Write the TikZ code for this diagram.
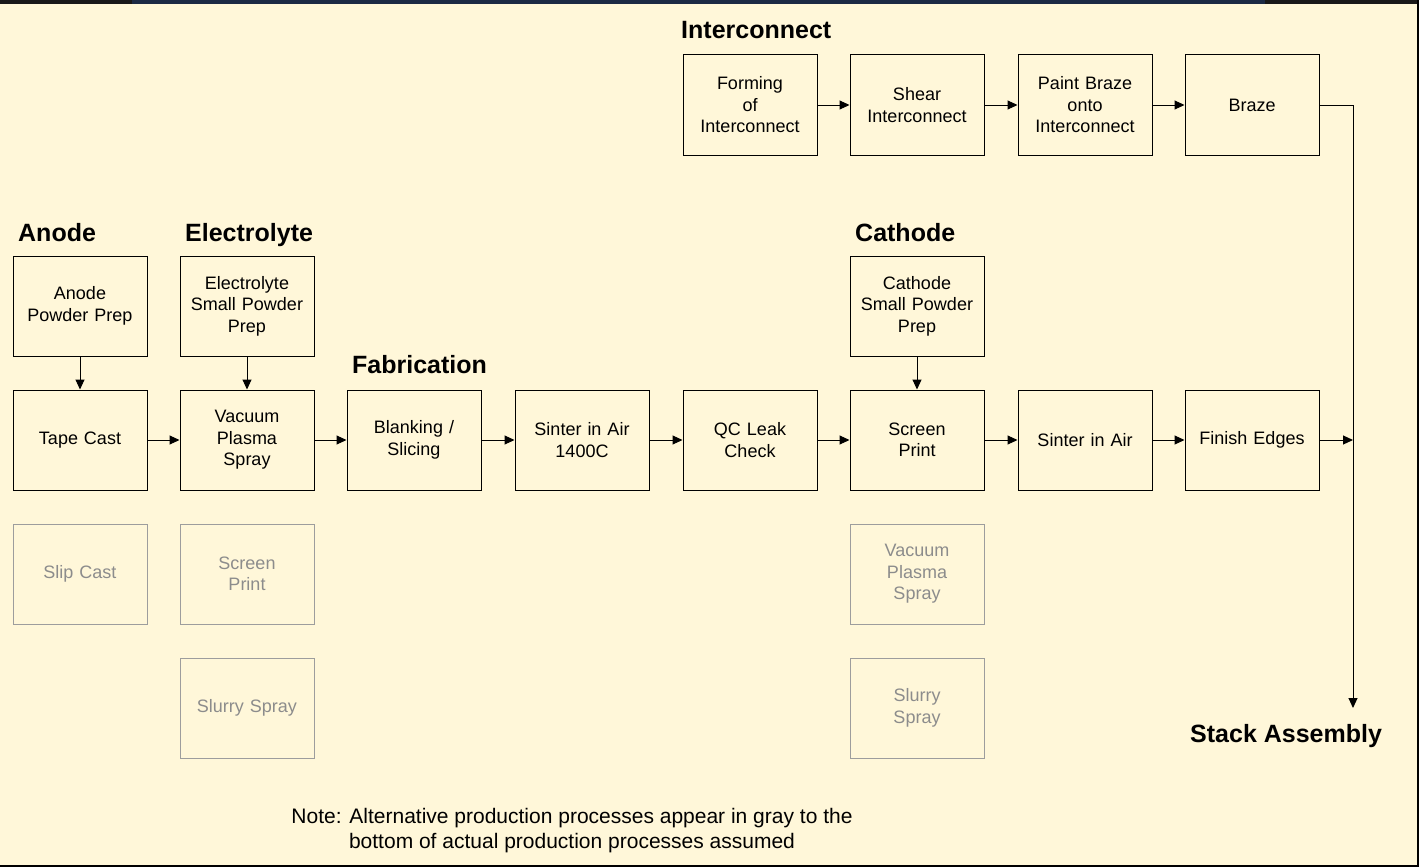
\documentclass[tikz,border=0pt]{standalone}
\usepackage{fontspec}
\setmainfont{Liberation Sans}
\usetikzlibrary{arrows.meta}
\definecolor{cream}{HTML}{FFF7D9}
\definecolor{navy}{HTML}{1C2A44}
\definecolor{altgray}{HTML}{8C8C8C}
\tikzset{
  procbox/.style={draw=black, line width=1pt, minimum width=134pt, minimum height=100pt,
    text width=128pt, align=center, inner sep=0pt, font=\fontsize{18}{21.5}\selectfont},
  altbox/.style={procbox, draw=altgray!85, text=altgray},
  header/.style={anchor=base west, inner sep=0pt, font=\fontsize{25}{30}\selectfont\bfseries},
  flow/.style={line width=1pt, -{Triangle[length=10pt,width=9pt]}}
}
\begin{document}
\begin{tikzpicture}[x=1pt,y=-1pt]
        \useasboundingbox (0,0) rectangle (1419,867);
        \fill[cream] (0,0) rectangle (1419,867);
        \fill[black!90] (0,0) rectangle (1419,4);
        \fill[navy] (132,0) rectangle (1265,4.5);
        \draw[black, line width=2pt] (1418,0) -- (1418,866) -- (0,866);
        % Below nodes are the headers.
            \node[header] (hinter) at (681,39) {Interconnect};
            \node[header] (hanode) at (18,241) {Anode};
            \node[header] (helec) at (185,241) {Electrolyte};
            \node[header] (hfab) at (352,373) {Fabrication};
            \node[header] (hcath) at (855,241) {Cathode};
            \node[header] (hstack) at (1190,742) {Stack Assembly};
        % Interconnect row.
            \node[procbox] (form) at (750,105) {Forming\\of\\Interconnect};
            \node[procbox] (shear) at (917,105) {Shear\\Interconnect};
            \node[procbox] (paint) at (1085,105) {Paint Braze\\onto\\Interconnect};
            \node[procbox] (braze) at (1252,105) {Braze};
        % Powder preparation.
            \node[procbox] (anprep) at (80,306) {Anode\\Powder Prep};
            \node[procbox] (elprep) at (247,306) {Electrolyte\\Small Powder\\Prep};
            \node[procbox] (caprep) at (917,306) {Cathode\\Small Powder\\Prep};
        % Main production line.
            \node[procbox] (tape) at (80,440) {Tape Cast};
            \node[procbox] (vps) at (247,440) {Vacuum\\Plasma\\Spray};
            \node[procbox] (blank) at (414,440) {Blanking /\\Slicing};
            \node[procbox] (sinter) at (582,440) {Sinter in Air\\1400C};
            \node[procbox] (leak) at (750,440) {QC Leak\\Check};
            \node[procbox] (screen) at (917,440) {Screen\\Print};
            \node[procbox] (sintair) at (1085,440) {Sinter in Air};
            \node[procbox] (finish) at (1252,440) {Finish Edges};
        % Alternatives in gray.
            \node[altbox] (slip) at (80,574) {Slip Cast};
            \node[altbox] (elscreen) at (247,574) {Screen\\Print};
            \node[altbox] (elslurry) at (247,708) {Slurry Spray};
            \node[altbox] (cavps) at (917,574) {Vacuum\\Plasma\\Spray};
            \node[altbox] (caslurry) at (917,708) {Slurry\\Spray};
        % Connectors.
            \coordinate (stackin) at (1353,708);
            \coordinate (join) at (1353,440);
            \draw[flow] (anprep) -- (tape);
            \draw[flow] (elprep) -- (vps);
            \draw[flow] (caprep) -- (screen);
            \draw[flow] (form) -- (shear);
            \draw[flow] (shear) -- (paint);
            \draw[flow] (paint) -- (braze);
            \draw[flow] (tape) -- (vps);
            \draw[flow] (vps) -- (blank);
            \draw[flow] (blank) -- (sinter);
            \draw[flow] (sinter) -- (leak);
            \draw[flow] (leak) -- (screen);
            \draw[flow] (screen) -- (sintair);
            \draw[flow] (sintair) -- (finish);
            \draw[flow] (finish) -- (join);
            \draw[flow] (braze.east) -| (stackin);
        % Note at the bottom.
            \node[align=center, font=\fontsize{21}{25}\selectfont] (note) at (572,831)
                {Note: Alternative production processes appear in gray to the\\bottom of actual production processes assumed};
    \end{tikzpicture}
\end{document}
